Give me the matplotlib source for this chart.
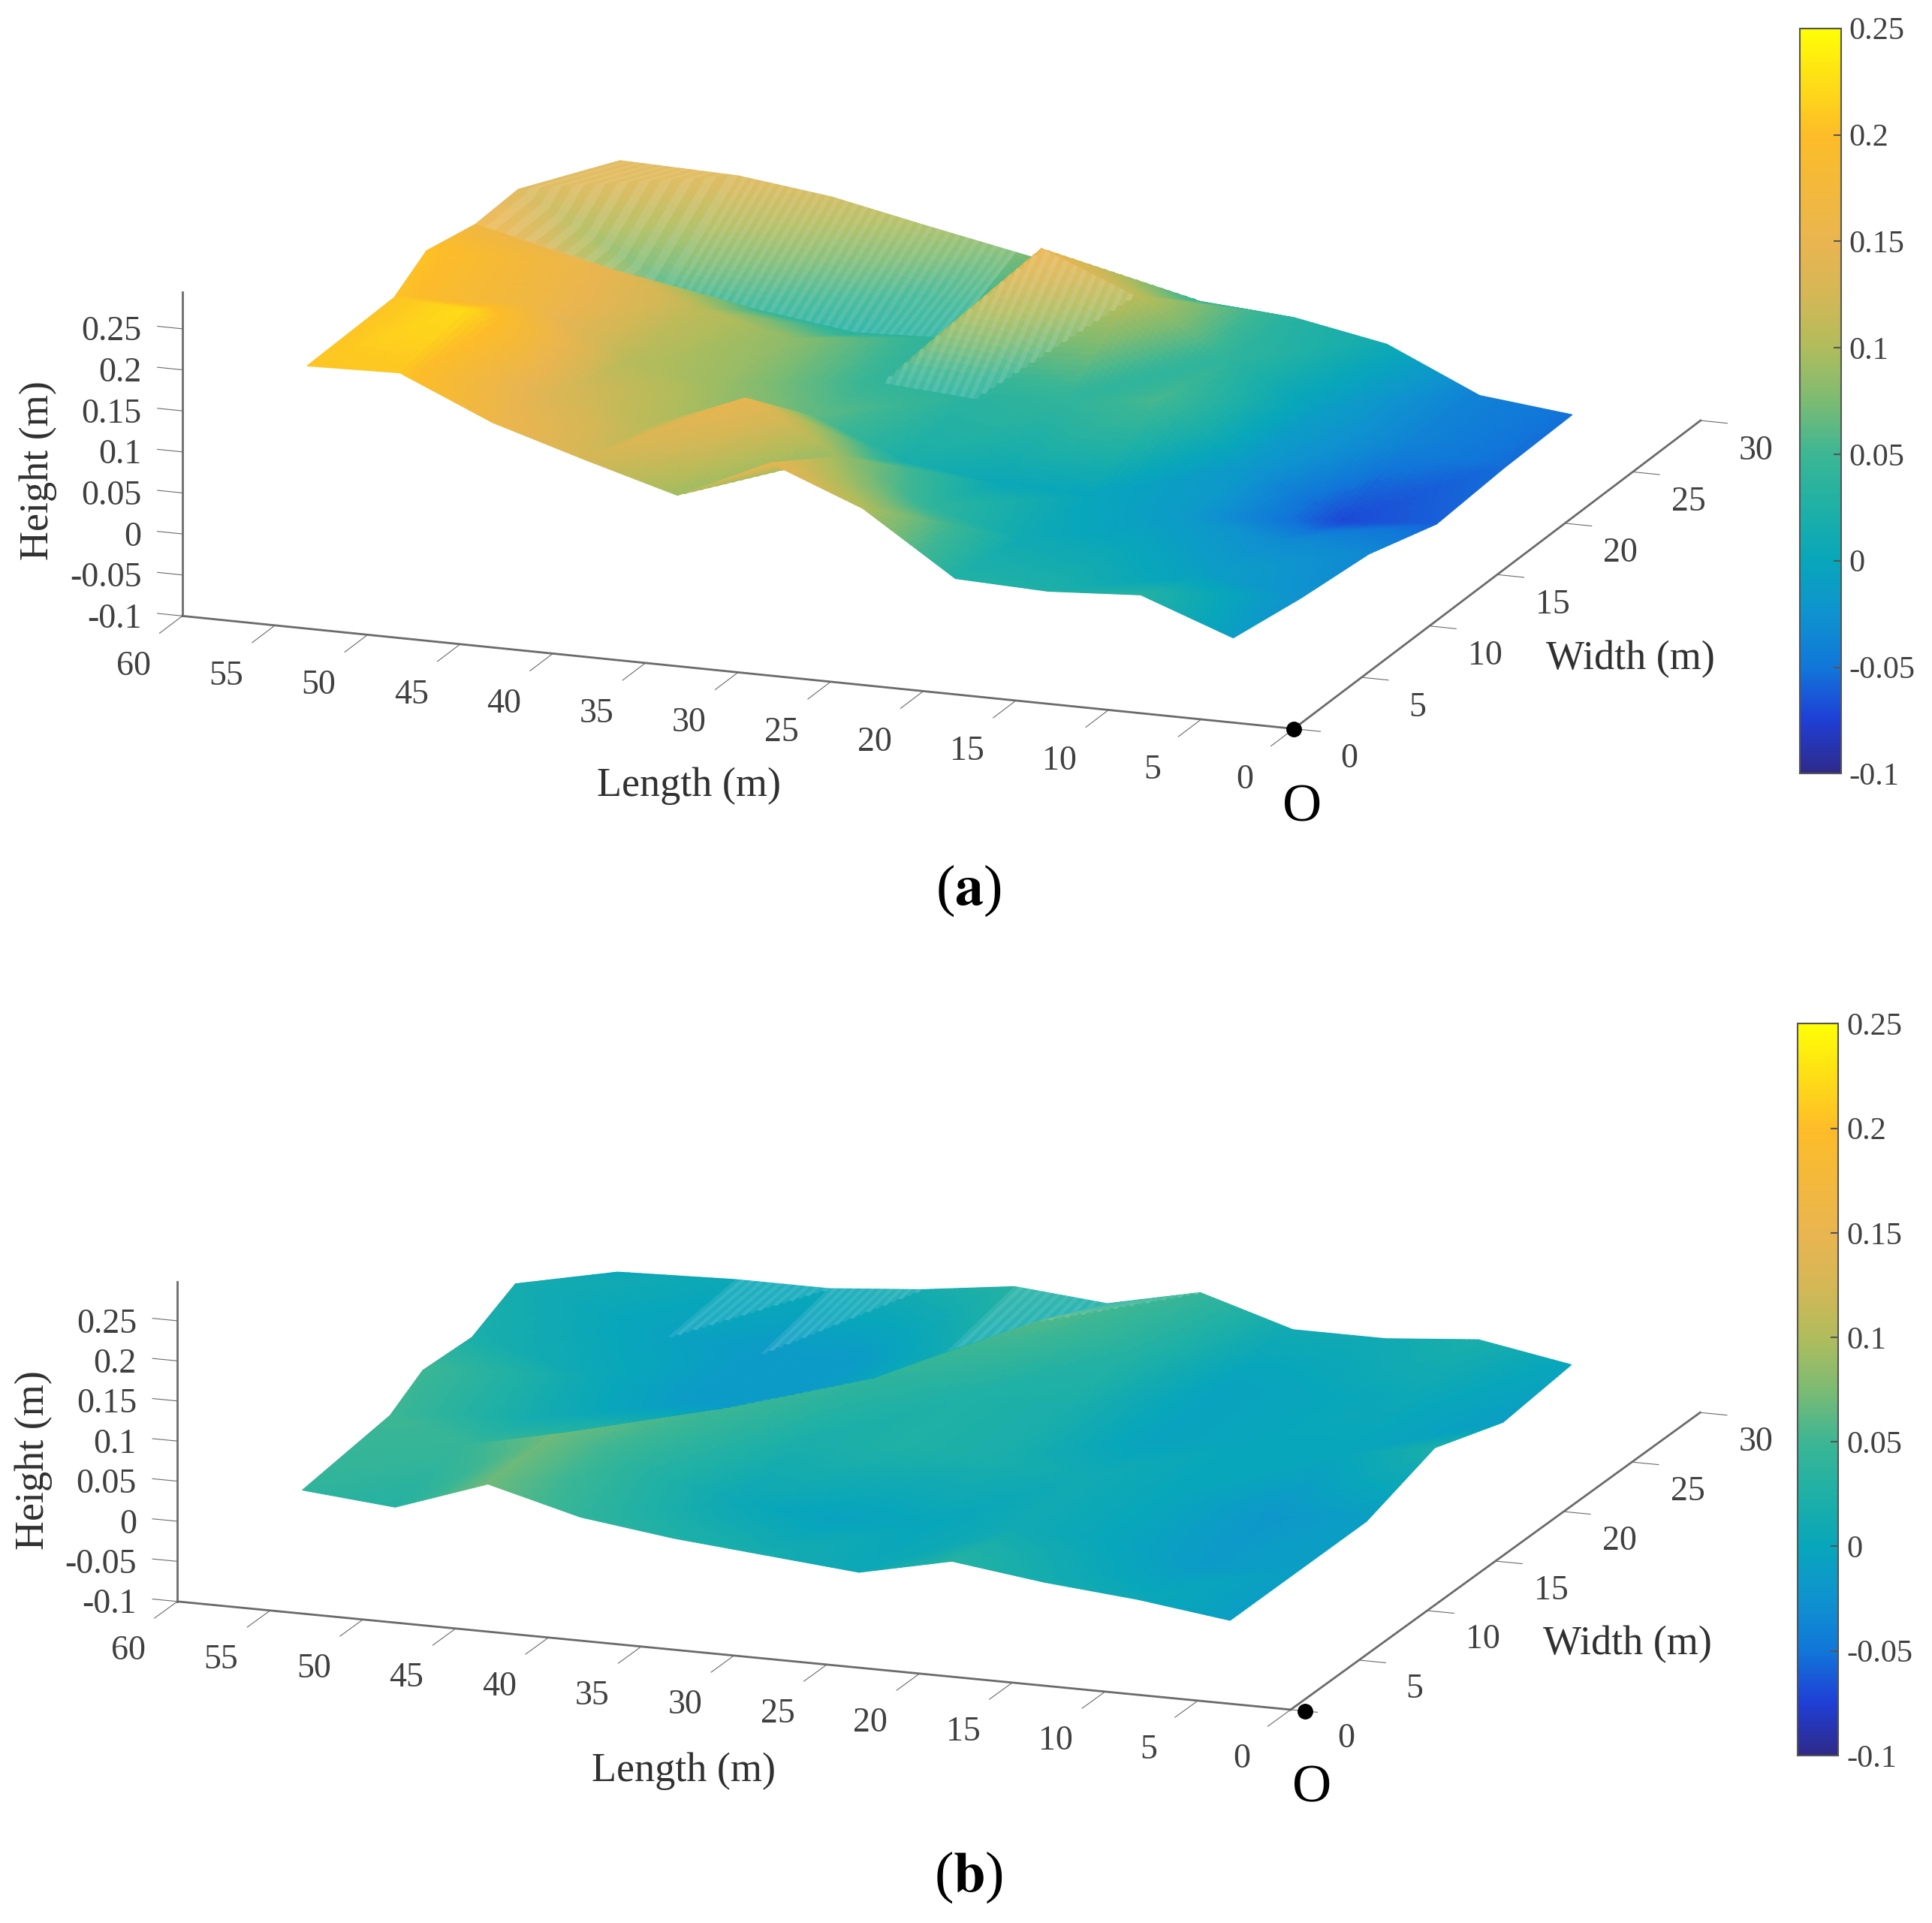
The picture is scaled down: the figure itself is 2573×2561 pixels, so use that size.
import numpy as np
import matplotlib
matplotlib.use('Agg')
import matplotlib.pyplot as plt
from matplotlib.cm import ScalarMappable
from matplotlib.colors import LinearSegmentedColormap, Normalize
from matplotlib.lines import Line2D
from mpl_toolkits.mplot3d import proj3d

plt.rcParams['font.family'] = ['Liberation Serif', 'DejaVu Serif']
plt.rcParams['mathtext.fontset'] = 'stix'
plt.rcParams['axes.unicode_minus'] = False

# Survey points
lengths = [4, 9, 14, 19, 24, 29, 34, 39, 44, 49]
widths = [1, 6, 11, 16, 21, 26]
# the far end of the survey is not a straight row
end_lengths = [54, 54.2, 55.6, 57, 58.7, 55.4]
end_widths = [1, 7.7, 12, 17.5, 23, 26]

# one row per length (last row is the far end), one column per width
height_a = [
    [-0.011, -0.025, -0.034, -0.060, -0.054, -0.052],
    [0.030, -0.010, -0.030, -0.070, -0.040, -0.040],
    [0.023, 0.005, -0.015, -0.020, -0.010, 0.011],
    [0.027, 0.010, 0.000, 0.055, 0.040, 0.032],
    [0.101, 0.040, 0.005, 0.040, 0.110, 0.040],
    [0.145, 0.090, 0.020, 0.035, 0.156, 0.055],
    [0.094, 0.150, 0.065, 0.043, 0.035, 0.077],
    [0.126, 0.105, 0.090, 0.085, 0.030, 0.099],
    [0.160, 0.130, 0.105, 0.110, 0.045, 0.122],
    [0.209, 0.223, 0.165, 0.150, 0.060, 0.136],
    [0.206, 0.205, 0.205, 0.165, 0.135, 0.140],
]
height_b = [
    [-0.010, -0.010, -0.010, 0.020, -0.010, 0.000],
    [0.005, -0.015, -0.020, 0.000, 0.005, 0.020],
    [0.015, 0.000, 0.000, 0.000, 0.000, 0.010],
    [0.030, 0.010, 0.010, -0.005, -0.005, 0.010],
    [0.005, 0.000, 0.020, 0.020, 0.030, 0.045],
    [0.015, -0.005, 0.025, 0.025, 0.060, 0.020],
    [0.025, 0.005, 0.020, 0.040, 0.010, 0.030],
    [0.040, 0.030, 0.050, -0.015, -0.015, 0.015],
    [0.070, 0.070, 0.020, -0.015, -0.015, 0.005],
    [0.030, 0.045, 0.015, 0.005, -0.005, 0.005],
    [0.040, 0.050, 0.050, 0.020, 0.015, 0.000],
]

# survey cells where the mesh lines spread apart: length cell, width cell, part
open_cells_a = [(9, 3, 'both'), (9, 4, 'both'), (8, 4, 'both'), (7, 4, 'both'), (6, 4, 'both'),
                (5, 3, 'lower'), (4, 3, 'upper')]
open_cells_b = [(8, 4, 'upper'), (7, 4, 'upper'), (5, 4, 'upper'), (4, 4, 'upper')]

x_ticks = list(range(0, 61, 5))
y_ticks = list(range(0, 31, 5))
z_ticks = [-0.1, -0.05, 0, 0.05, 0.1, 0.15, 0.2, 0.25]
z_labels = ['-0.1', '-0.05', '0', '0.05', '0.1', '0.15', '0.2', '0.25']

# colours sampled off the reference colour bar
bar_values = [-0.1, -0.075, -0.05, -0.025, 0, 0.025, 0.05, 0.075, 0.1, 0.125, 0.15, 0.2, 0.25]
bar_colours = ['#2f2a8a', '#1f3fd6', '#1177d9', '#0f93cf', '#08a6bb', '#1fb0a6', '#3cb694',
               '#7cbb73', '#b0bc5c', '#d5b756', '#e9b550', '#fdbc28', '#fffe05']
norm = Normalize(-0.1, 0.25)
parula = LinearSegmentedColormap.from_list(
    'parula', [(norm(v), c) for v, c in zip(bar_values, bar_colours)])

W, H = 2573, 2561
REF_W, REF_H = 1568, 1561
SUB = 20
fig = plt.figure(figsize=(W / 100, H / 100), dpi=100, facecolor='white')


def fx(x):
    return x / REF_W


def fy(y):
    return 1 - y / REF_H


def fit_axes(ax, left_pt, origin_pt):
    # put the two ends of the length axis on their spots in the reference
    ax.apply_aspect()
    M = ax.get_proj()
    a = proj3d.proj_transform(60, 0, -0.1, M)[:2]
    b = proj3d.proj_transform(0, 0, -0.1, M)[:2]
    qa, qb = ax.transAxes.inverted().transform(ax.transData.transform([a, b]))
    ta = np.array([left_pt[0] * W / REF_W, H - left_pt[1] * H / REF_H])
    tb = np.array([origin_pt[0] * W / REF_W, H - origin_pt[1] * H / REF_H])
    side = np.linalg.norm(tb - ta) / np.linalg.norm(qb - qa)
    low = ta - qa * side
    ax.set_position([low[0] / W, low[1] / H, side / W, side / H])
    ax.apply_aspect()


def subdivide(nodes):
    # split every cell into two flat triangles, then sample them finely
    nodes = np.asarray(nodes, dtype=float)
    si = np.linspace(0, nodes.shape[0] - 1, (nodes.shape[0] - 1) * SUB + 1)
    sj = np.linspace(0, nodes.shape[1] - 1, (nodes.shape[1] - 1) * SUB + 1)
    si, sj = np.meshgrid(si, sj, indexing='ij')
    i0 = np.minimum(si.astype(int), nodes.shape[0] - 2)
    j0 = np.minimum(sj.astype(int), nodes.shape[1] - 2)
    u, v = si - i0, sj - j0
    z00, z10 = nodes[i0, j0], nodes[i0 + 1, j0]
    z01, z11 = nodes[i0, j0 + 1], nodes[i0 + 1, j0 + 1]
    lower = z00 + (z10 - z00) * u + (z01 - z00) * v
    upper = z11 + (z01 - z11) * (1 - u) + (z10 - z11) * (1 - v)
    return np.where(u + v <= 1, lower, upper)


def mesh_colours(Z, open_cells):
    colours = parula(norm(Z))
    rows, cols = np.indices((Z.shape[0] - 1, Z.shape[1] - 1))
    ci, cj = rows // SUB, cols // SUB
    u, v = (rows % SUB + 0.5) / SUB, (cols % SUB + 0.5) / SUB
    opened = np.zeros(rows.shape, dtype=bool)
    for i, j, part in open_cells:
        sel = (ci == i) & (cj == j)
        if part == 'lower':
            sel &= u + v < 1
        elif part == 'upper':
            sel &= u + v >= 1
        opened |= sel
    # lighter stripes stand in for the white gaps between mesh lines
    lighten = np.where(rows % 2 == 0, 0.17, 0.09)
    lighten = np.where(opened, lighten, 0.0)[..., None]
    colours[:-1, :-1, :3] = colours[:-1, :-1, :3] * (1 - lighten) + lighten
    return colours


def draw_panel(heights, open_cells, left_pt, origin_pt, elev, box, ztop, bar, dot, txt, name):
    ax = fig.add_axes([0.1, 0.1, 0.6, 0.6], projection='3d', proj_type='ortho',
                      computed_zorder=False)
    ax.patch.set_visible(False)
    ax.view_init(elev=elev, azim=-69.9)
    ax.set_box_aspect(box)
    ax.set_xlim(60, 0)
    ax.set_ylim(0, 30)
    ax.set_zlim(-0.1, ztop)
    fit_axes(ax, left_pt, origin_pt)

    X = subdivide([[v] * len(widths) for v in lengths] + [end_lengths])
    Y = subdivide([widths] * len(lengths) + [end_widths])
    Z = subdivide(heights)
    ax.plot_surface(X, Y, Z, facecolors=mesh_colours(Z, open_cells),
                    rcount=Z.shape[0], ccount=Z.shape[1], shade=False,
                    linewidth=0.8)

    ax.grid(False)
    for axis in (ax.xaxis, ax.yaxis, ax.zaxis):
        axis.set_pane_color((1, 1, 1, 0))
        axis.pane.set_edgecolor((1, 1, 1, 0))
        axis.line.set_color('#6a6a6a')
        axis.line.set_linewidth(2.0)
    ax.zaxis.set_ticks_position('lower')
    ax.zaxis._get_tickdir = lambda position: 0
    ax.xaxis._axinfo['tick']['inward_factor'] = 0.7
    ax.xaxis._axinfo['tick']['outward_factor'] = 0.0
    ax.yaxis._axinfo['tick']['inward_factor'] = 0.3
    ax.yaxis._axinfo['tick']['outward_factor'] = 0.0
    ax.zaxis._axinfo['tick']['inward_factor'] = 0.0
    ax.zaxis._axinfo['tick']['outward_factor'] = 0.28

    ax.set_xticks(x_ticks)
    ax.set_yticks(y_ticks)
    ax.set_zticks(z_ticks)
    ax.set_xticklabels([])
    ax.set_yticklabels([])
    ax.set_zticklabels([])
    ax.tick_params(color='#6a6a6a', width=2.0)

    # tick labels sit off the axes along the tick direction
    M = ax.get_proj()

    def tick_text(x, y, z, s, ha='center'):
        px, py, _ = proj3d.proj_transform(x, y, z, M)
        ax.text2D(px, py, s, transform=ax.transData, fontsize=33, color='#404040',
                  ha=ha, va='center')

    for v in x_ticks:
        tick_text(v, -3.6, -0.117, str(v))
    for v in y_ticks:
        tick_text(-3.0, v, -0.13, str(v))
    for v, lab in zip(z_ticks, z_labels):
        tick_text(62.2, 0, v - 0.009, lab, ha='right')

    # colour bar
    cax = fig.add_axes([fx(bar[0]), fy(bar[3]), fx(bar[1] - bar[0]), (bar[3] - bar[2]) / REF_H])
    cb = fig.colorbar(ScalarMappable(norm=norm, cmap=parula), cax=cax)
    cb.set_ticks(z_ticks, labels=z_labels)
    cb.ax.tick_params(labelsize=30.5, labelcolor='#404040', direction='in', length=7,
                      width=1.5, color='#555555', pad=8)
    cb.outline.set_edgecolor('#555555')
    cb.outline.set_linewidth(1.5)

    # origin marker and captions
    fig.add_artist(Line2D([fx(dot[0])], [fy(dot[1])], marker='o', ms=14, color='black',
                          transform=fig.transFigure))
    fig.text(fx(txt['len'][0]), fy(txt['len'][1]), 'Length (m)', fontsize=39, color='#303030',
             ha='center', va='center')
    fig.text(fx(txt['wid'][0]), fy(txt['wid'][1]), 'Width (m)', fontsize=39, color='#303030',
             ha='center', va='center')
    fig.text(fx(txt['hei'][0]), fy(txt['hei'][1]), 'Height (m)', fontsize=39, color='#303030',
             ha='center', va='center', rotation=90)
    fig.text(fx(txt['o'][0]), fy(txt['o'][1]), 'O', fontsize=52, color='black',
             ha='center', va='center')
    fig.text(fx(txt['cap'][0]), fy(txt['cap'][1]), r'($\mathbf{%s}$)' % name, fontsize=55,
             color='black', ha='center', va='center')


draw_panel(height_a, open_cells_a, (148, 500), (1050, 592), 16.1, (1, 1, 0.285), 0.295,
           (1461, 1494, 23, 628), (1050, 592),
           {'len': (559, 638), 'wid': (1323, 535), 'hei': (31, 382), 'o': (1057, 656),
            'cap': (786, 723)}, 'a')
draw_panel(height_b, open_cells_b, (144, 1300), (1047.5, 1388), 15.4, (1, 1.005, 0.28), 0.299,
           (1459, 1492, 831, 1425), (1059, 1389),
           {'len': (555, 1438), 'wid': (1321, 1335), 'hei': (27, 1185), 'o': (1065, 1452),
            'cap': (786, 1524)}, 'b')

fig.savefig('out.png', dpi=100)
